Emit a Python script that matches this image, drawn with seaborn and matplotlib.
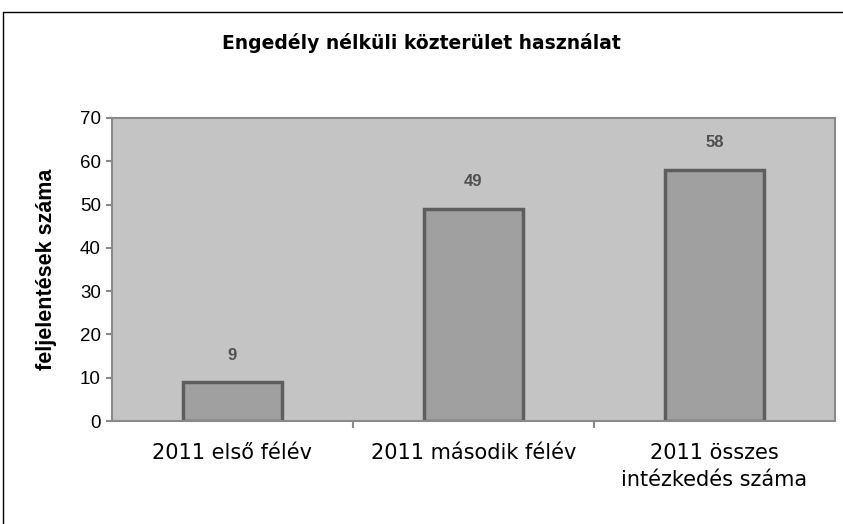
import matplotlib
matplotlib.use("Agg")
import matplotlib.pyplot as plt
from matplotlib.lines import Line2D
import seaborn as sns
import pandas as pd

categories = ["2011 első félév", "2011 második félév", "2011 összes\nintézkedés száma"]
values = [9, 49, 58]
title = "Engedély nélküli közterület használat"
ylabel = "feljelentések száma"

sns.set_theme(style="white")
plt.rcParams["font.family"] = ["Liberation Sans", "DejaVu Sans"]
plt.rcParams["text.color"] = "black"
plt.rcParams["axes.labelcolor"] = "black"

df = pd.DataFrame({"cat": categories, "val": values})

fig = plt.figure(figsize=(8.43, 5.24), dpi=100)
ax = fig.add_axes([112 / 843, 1 - 421 / 524, (835 - 112) / 843, (421 - 118) / 524])
ax.set_facecolor("#c4c4c4")

sns.barplot(data=df, x="cat", y="val", ax=ax, color="#a0a0a0", width=0.41,
            edgecolor="#5e5e5e", linewidth=2.5, saturation=1)

for c in ax.containers:
    ax.bar_label(c, padding=14, fontsize=12, color="#505050", fontweight="bold")

ax.set_ylim(0, 70)
ax.set_yticks(range(0, 71, 10))
ax.set_xlim(-0.5, 2.5)
ax.set_xticks([0, 1, 2])
ax.set_xticklabels(categories, fontsize=15, color="black", family=["DejaVu Sans"],
                   linespacing=1.4)
ax.tick_params(axis="x", length=0, pad=16)
ax.tick_params(axis="y", labelsize=13.5, labelcolor="black", length=4, width=1.5,
               color="#8a8a8a", left=True, pad=4)
# category separators on the x axis
ax.set_xticks([0.5, 1.5], minor=True)
ax.tick_params(axis="x", which="minor", length=5, width=1.5, color="#8a8a8a", bottom=True)

for s in ax.spines.values():
    s.set_color("#8a8a8a")
    s.set_linewidth(1.5)

ax.set_xlabel("")
ax.set_ylabel(ylabel, fontsize=15.5, fontweight="bold", color="black",
              family=["Liberation Sans"])
ax.yaxis.set_label_coords(-(112 - 57) / 723, 0.5)

fig.text(421 / 843, 1 - 43 / 524, title, ha="center", va="center",
         fontsize=13.5, fontweight="bold", family=["DejaVu Sans"], color="black")

# outer chart frame (left and top edges)
fig.add_artist(Line2D([3 / 843, 3 / 843], [0, 1 - 12 / 524], transform=fig.transFigure,
                      color="black", linewidth=1))
fig.add_artist(Line2D([3 / 843, 1], [1 - 12 / 524, 1 - 12 / 524], transform=fig.transFigure,
                      color="black", linewidth=1))

fig.savefig("out.png", dpi=100, facecolor="white")
